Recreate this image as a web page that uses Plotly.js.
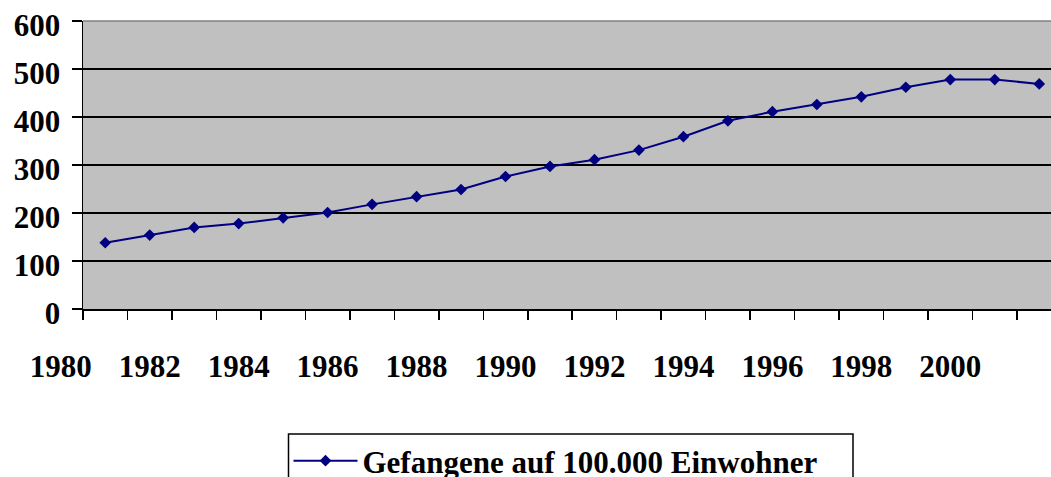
<!DOCTYPE html>
<html>
<head>
<meta charset="utf-8">
<script src="https://cdn.plot.ly/plotly-3.0.1.min.js"></script>
<style>
  html, body { margin: 0; padding: 0; background: #fff; }
  #chart { width: 1051px; height: 477px; }
</style>
</head>
<body>
<div id="chart"></div>
<script>
// prisoners per 100,000 inhabitants, one point per year
var years = [1981, 1982, 1983, 1984, 1985, 1986, 1987, 1988, 1989, 1990, 1991,
             1992, 1993, 1994, 1995, 1996, 1997, 1998, 1999, 2000, 2001, 2002];
var rate = [138, 154, 170, 178, 190, 201, 218, 234, 249, 276, 297,
            311, 331, 359, 392, 411, 426, 442, 462, 478, 478, 469];

// year labels under the axis (every other year)
var labelYears = [1980, 1982, 1984, 1986, 1988, 1990, 1992, 1994, 1996, 1998, 2000];
var seriesName = 'Gefangene auf 100.000 Einwohner';

// category tick marks sit between the points
var boundaries = [];
for (var i = 0; i <= years.length; i++) boundaries.push(years[0] - 0.5 + i);

var serif = '"Liberation Serif", "Times New Roman", serif';
var fontSize = 31;
var figW = 1051, figH = 477, plotLeft = 83, plotTop = 21, plotBottom = 309;
var step = (1017 - 83) / 21;                 // px per year
var xStart = years[0] - 0.5;
var xEnd = xStart + (figW - plotLeft) / step;
var plotH = plotBottom - plotTop;

var trace = {
    x: years,
    y: rate,
    name: seriesName,
    type: 'scatter',
    mode: 'lines+markers',
    line: {color: '#000080', width: 2},
    marker: {symbol: 'diamond', size: 9, color: '#000080'}
};

// empty trace so the label-only axis gets drawn
var labelHolder = {
    x: [null], y: [null], xaxis: 'x2', yaxis: 'y2',
    type: 'scatter', mode: 'markers', showlegend: false, hoverinfo: 'skip'
};

var layout = {
    width: figW,
    height: figH,
    margin: {l: 0, r: 0, t: plotTop, b: figH - plotBottom, autoexpand: false},
    paper_bgcolor: '#ffffff',
    plot_bgcolor: 'rgba(0,0,0,0)',
    showlegend: true,
    xaxis: {
        domain: [plotLeft / figW, 1],
        range: [xStart, xEnd],
        tickmode: 'array',
        tickvals: boundaries,
        showticklabels: false,
        ticks: 'outside',
        ticklen: 9,
        tickwidth: 1.5,
        tickcolor: '#000',
        showline: true,
        linecolor: '#000',
        linewidth: 1.5,
        showgrid: false,
        zeroline: false,
        fixedrange: true
    },
    yaxis: {
        range: [0, 600],
        dtick: 100,
        tick0: 0,
        ticks: 'outside',
        ticklen: 10,
        tickwidth: 1.5,
        tickcolor: '#000',
        ticklabelstandoff: 5,
        ticklabelshift: 4,
        tickfont: {family: serif, size: fontSize, color: '#000', weight: 'bold'},
        showline: true,
        linecolor: '#000',
        linewidth: 1.5,
        showgrid: true,
        gridcolor: '#000',
        gridwidth: 1.3,
        zeroline: false,
        fixedrange: true
    },
    // separate axis that only carries the year labels
    xaxis2: {
        domain: [0, 1],
        anchor: 'y2',
        range: [xStart - plotLeft / step, xEnd],
        tickmode: 'array',
        tickvals: labelYears,
        ticktext: labelYears.map(String),
        ticks: '',
        ticklabelstandoff: 36,
        tickfont: {family: serif, size: fontSize, color: '#000', weight: 'bold'},
        showline: false,
        showgrid: false,
        zeroline: false,
        fixedrange: true
    },
    yaxis2: {
        domain: [0, 0.01],
        anchor: 'x2',
        range: [0, 1],
        showticklabels: false,
        showgrid: false,
        showline: false,
        zeroline: false,
        ticks: '',
        fixedrange: true
    },
    shapes: [
        // grey plot area and its top edge
        {type: 'rect', xref: 'x domain', yref: 'y domain', x0: 0, x1: 1, y0: 0, y1: 1,
         fillcolor: '#c0c0c0', line: {width: 0}, layer: 'below'},
        {type: 'line', xref: 'x domain', yref: 'y domain', x0: 0, x1: 1, y0: 1, y1: 1,
         line: {color: '#808080', width: 1.5}, layer: 'above'},
        // legend frame (runs off the bottom of the picture)
        {type: 'rect', xref: 'paper', yref: 'paper',
         x0: 288.5 / figW, x1: 853 / figW,
         y0: (plotBottom - 434) / plotH, y1: (plotBottom - 495) / plotH,
         fillcolor: '#ffffff', line: {color: '#000', width: 1.5}, layer: 'below'}
    ],
    legend: {
        x: 288.5 / figW,
        y: (plotBottom - 434) / plotH,
        xanchor: 'left',
        yanchor: 'top',
        bgcolor: 'rgba(0,0,0,0)',
        borderwidth: 0,
        itemwidth: 64,
        font: {family: serif, size: fontSize, color: '#000', weight: 'bold'}
    }
};

Plotly.newPlot('chart', [trace, labelHolder], layout, {displayModeBar: false, staticPlot: true});
</script>
</body>
</html>
